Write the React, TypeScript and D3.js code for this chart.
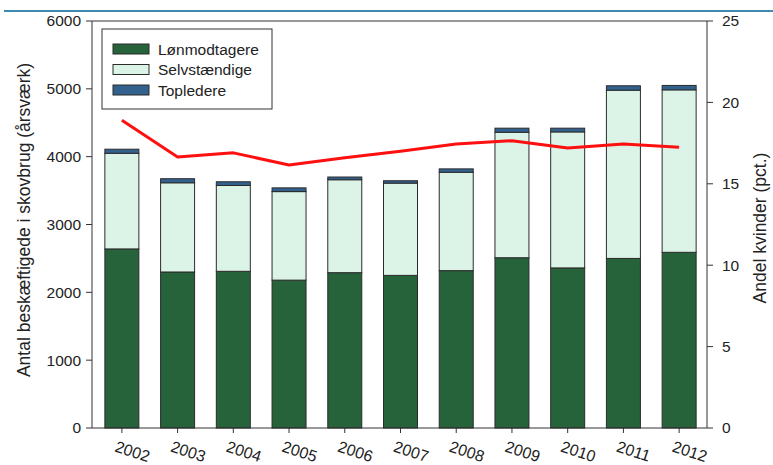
import React from "react";
import * as d3 from "d3";

const years = ["2002","2003","2004","2005","2006","2007","2008","2009","2010","2011","2012"];
const loenmodtagere = [2640, 2300, 2310, 2180, 2290, 2250, 2320, 2510, 2360, 2500, 2590];
const selvstaendige = [1410, 1315, 1265, 1305, 1370, 1360, 1450, 1850, 2005, 2480, 2395];
const topledere = [60, 60, 55, 55, 40, 35, 50, 60, 55, 65, 65];
const andelKvinder = [18.9, 16.65, 16.9, 16.15, 16.6, 17.0, 17.45, 17.65, 17.2, 17.45, 17.25];
const leftTicks = [0, 1000, 2000, 3000, 4000, 5000, 6000];
const rightTicks = [0, 5, 10, 15, 20, 25];
const seriesNames = ["Lønmodtagere", "Selvstændige", "Topledere"];
const seriesColors = ["#26633a", "#dcf4e8", "#33618e"];

const W = 773, H = 465;
const left = 92, right = 707, top = 21, bottom = 428;
const FONT = "'Liberation Sans', Arial, sans-serif";
const TXT = "#222";
const AX = "#333";

export default function App() {
  const x = d3.scaleBand<string>().domain(years).range([left + 2, right]).paddingInner(0.39).paddingOuter(0.195);
  const y = d3.scaleLinear().domain([0, 6000]).range([bottom, top]);
  const y2 = d3.scaleLinear().domain([0, 25]).range([bottom, top]);

  const rows = years.map((yr, i) => ({ yr, v: [loenmodtagere[i], selvstaendige[i], topledere[i]] }));
  const stack = d3.stack<any>().keys([0, 1, 2] as any).value((d: any, k: any) => d.v[k]);
  const stacked = stack(rows);

  const line = d3.line<number>()
    .x((_, i) => (x(years[i]) as number) + x.bandwidth() / 2)
    .y((d) => y2(d));

  const bw = x.bandwidth();

  return (
    <svg width={W} height={H} style={{ display: "block", position: "absolute", left: 0, top: 0 }} fontFamily={FONT}>
      <rect x={0} y={0} width={W} height={H} fill="#fff" />
      <line x1={4} x2={W} y1={11} y2={11} stroke="#3f88b2" strokeWidth={2} />

      {/* bars */}
      {stacked.map((s, si) => (
        <g key={si}>
          {s.map((d, i) => (
            <rect key={i} x={x(years[i])} y={y(d[1])} width={bw} height={y(d[0]) - y(d[1])}
              fill={seriesColors[si]} stroke="#2b2b2b" strokeWidth={1} />
          ))}
        </g>
      ))}

      {/* line */}
      <path d={line(andelKvinder) || ""} fill="none" stroke="#ff1010" strokeWidth={3} strokeLinejoin="round" />

      {/* frame */}
      <line x1={left} x2={right} y1={top} y2={top} stroke={AX} />
      <line x1={left} x2={right} y1={bottom} y2={bottom} stroke={AX} />
      <line x1={left} x2={left} y1={top} y2={bottom} stroke={AX} />
      <line x1={right} x2={right} y1={top} y2={bottom} stroke={AX} />

      {/* left axis */}
      {leftTicks.map((t) => (
        <g key={t}>
          <line x1={left - 6} x2={left} y1={y(t)} y2={y(t)} stroke={AX} />
          <text x={left - 11} y={y(t)} dy="0.35em" textAnchor="end" fontSize={15.5} fill={TXT}>{t}</text>
        </g>
      ))}
      {/* right axis */}
      {rightTicks.map((t) => (
        <g key={t}>
          <line x1={right} x2={right + 6} y1={y2(t)} y2={y2(t)} stroke={AX} />
          <text x={right + 15} y={y2(t)} dy="0.35em" textAnchor="start" fontSize={15.5} fill={TXT}>{t}</text>
        </g>
      ))}
      {/* bottom axis */}
      {years.map((yr) => {
        const cx = (x(yr) as number) + bw / 2;
        return (
          <g key={yr}>
            <line x1={cx} x2={cx} y1={bottom} y2={bottom + 5} stroke={AX} />
            <text transform={`translate(${cx - 4},${439}) rotate(18)`} dy="0.8em" textAnchor="start" fontSize={16} fill={TXT}>{yr}</text>
          </g>
        );
      })}

      {/* axis titles */}
      <text transform={`translate(30,220) rotate(-90)`} textAnchor="middle" fontSize={17.5} fill={TXT}>
        Antal beskæftigede i skovbrug (årsværk)
      </text>
      <text transform={`translate(766,228) rotate(-90)`} textAnchor="middle" fontSize={17.5} fill={TXT}>
        Andel kvinder (pct.)
      </text>

      {/* legend */}
      <rect x={102} y={29} width={170} height={80} fill="#fff" stroke={AX} strokeWidth={1} />
      {seriesNames.map((n, i) => (
        <g key={n}>
          <rect x={113} y={44 + i * 20.5} width={36} height={10} fill={seriesColors[i]} stroke="#2b2b2b" />
          <text x={158} y={49 + i * 20.5} dy="0.36em" fontSize={15.5} fill={TXT}>{n}</text>
        </g>
      ))}
    </svg>
  );
}
